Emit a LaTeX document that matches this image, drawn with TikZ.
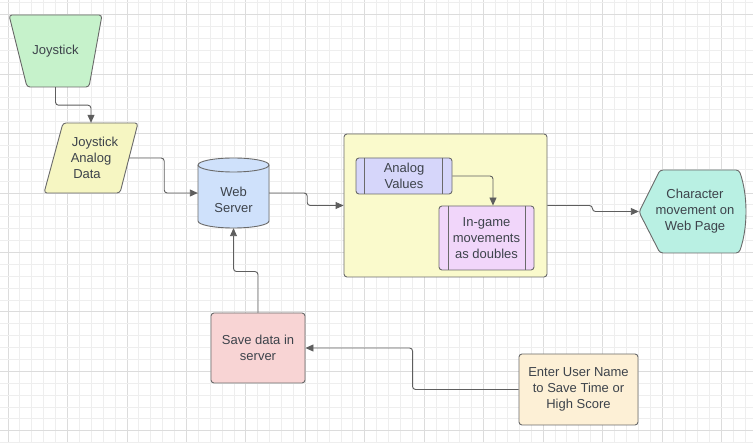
\documentclass[tikz,border=0pt]{standalone}
\usepackage{fontspec}
\setmainfont{Liberation Sans}
\usetikzlibrary{arrows.meta}

\definecolor{gridminor}{HTML}{EEEEEE}
\definecolor{gridmajor}{HTML}{DCDCDC}
\definecolor{outline}{HTML}{6A6A6A}
\definecolor{wire}{HTML}{5E5E5E}
\definecolor{ink}{HTML}{3D434B}
\definecolor{joygreen}{HTML}{C6F2CB}
\definecolor{datayellow}{HTML}{F6F6C2}
\definecolor{serverblue}{HTML}{CFE1FB}
\definecolor{panelyellow}{HTML}{FAFACC}
\definecolor{valuelilac}{HTML}{D6D6FA}
\definecolor{movepink}{HTML}{F1D6FA}
\definecolor{pagemint}{HTML}{B9F0E3}
\definecolor{saverose}{HTML}{F8D4D4}
\definecolor{entercream}{HTML}{FDF0D6}

\pgfdeclarelayer{gridlayer}
\pgfdeclarelayer{background}
\pgfsetlayers{gridlayer,background,main}

\tikzset{
  lbl/.style={font=\fontsize{13}{16}\selectfont, text=ink, align=center, inner sep=0pt},
  outlined/.style={draw=outline, line width=0.9pt, rounded corners=3pt},
  boxnode/.style={lbl, outlined, rectangle},
  conn/.style={draw=wire, line width=0.9pt, rounded corners=3pt,
    -{Triangle[length=8pt,width=7pt]}},
}

\begin{document}
\begin{tikzpicture}[x=1pt,y=-1pt]
\useasboundingbox (0,0) rectangle (753,443);

% paper with a faint grid
\begin{pgfonlayer}{gridlayer}
  \fill[white] (0,0) rectangle (753,443);
  \foreach \i in {0,...,62} {
    \pgfmathtruncatemacro{\m}{mod(\i,5)}
    \ifnum\m=0
      \draw[gridmajor, line width=0.8pt] (8+\i*11.89,0) -- (8+\i*11.89,443);
    \else
      \draw[gridminor, line width=0.8pt] (8+\i*11.89,0) -- (8+\i*11.89,443);
    \fi
  }
  \foreach \j in {0,...,37} {
    \pgfmathtruncatemacro{\m}{mod(\j,5)}
    \ifnum\m=1
      \draw[gridmajor, line width=0.8pt] (0,2.7+\j*11.89) -- (753,2.7+\j*11.89);
    \else
      \draw[gridminor, line width=0.8pt] (0,2.7+\j*11.89) -- (753,2.7+\j*11.89);
    \fi
  }
\end{pgfonlayer}

% labels of the custom-shaped nodes
\node[lbl, minimum width=93, minimum height=72] (js) at (55.5,51) {Joystick};
\node[lbl, minimum width=76, minimum height=70] (data) at (91,158)
  {\hspace*{8pt}Joystick\\Analog\\Data\hspace*{8pt}};
\node[lbl, minimum width=71, minimum height=57] (ws) at (233.5,199.5) {Web\\Server};
\node[lbl, minimum width=106, minimum height=83] (disp) at (692,211.5)
  {\hspace*{6pt}Character\\\hspace*{6pt}movement on\\\hspace*{6pt}Web Page};

% custom outlines
\begin{pgfonlayer}{background}
  % manual input (trapezoid)
  \filldraw[outlined, fill=joygreen]
    (9,15) -- (102,15) -- (89,87) -- (27,87) -- cycle;
  % data (parallelogram)
  \filldraw[outlined, fill=datayellow]
    (63,123) -- (138,123) -- (120,193) -- (44,193) -- cycle;
  % database (cylinder)
  \filldraw[draw=outline, line width=0.9pt, fill=serverblue]
    (198,165) -- (198,221)
    arc[start angle=180, end angle=360, x radius=35.5pt, y radius=7pt]
    -- (269,165)
    arc[start angle=0, end angle=180, x radius=35.5pt, y radius=7pt] -- cycle;
  \draw[outline, line width=0.9pt]
    (198,165) arc[start angle=180, end angle=360, x radius=35.5pt, y radius=7pt];
  % display
  \filldraw[outlined, fill=pagemint]
    (639,212) -- (660,170) -- (739,170)
    .. controls (748,195) and (748,228) .. (739,253)
    -- (660,253) -- cycle;
\end{pgfonlayer}

% container and its predefined processes
\node[boxnode, fill=panelyellow, minimum width=203, minimum height=143] (cont) at (445.5,205.5) {};
\node[boxnode, fill=valuelilac, minimum width=96, minimum height=36] (av) at (404,176) {Analog\\Values};
\draw[outline, line width=0.9pt] ([xshift=9pt]av.north west) -- ([xshift=9pt]av.south west)
  ([xshift=-10pt]av.north east) -- ([xshift=-10pt]av.south east);
\node[boxnode, fill=movepink, minimum width=95, minimum height=64] (ig) at (486.5,238)
  {In-game\\movements\\as doubles};
\draw[outline, line width=0.9pt] ([xshift=10pt]ig.north west) -- ([xshift=10pt]ig.south west)
  ([xshift=-9pt]ig.north east) -- ([xshift=-9pt]ig.south east);

% process boxes
\node[boxnode, fill=saverose, minimum width=94, minimum height=70] (save) at (258,348)
  {Save data in\\server};
\node[boxnode, fill=entercream, minimum width=119, minimum height=71] (ent) at (578.5,389.5)
  {Enter User Name\\to Save Time or\\High Score};

% connectors
\draw[conn] (js.south) -- ++(0,18) -| (data.north);
\draw[conn] (data.east) -- ++(35,0) |- ([yshift=6.5pt]ws.west);
\draw[conn] ([yshift=6.5pt]ws.east) -- ++(38,0) |- (cont.west);
\draw[conn] (save.north) -- ++(0,-41) -| (ws.south);
\draw[conn] (av.east) -| ([xshift=6.5pt]ig.north);
\draw[conn] (cont.east) -- ++(45,0) |- (disp.west);
\draw[conn] (ent.west) -- ++(-106,0) |- (save.east);

\end{tikzpicture}
\end{document}
